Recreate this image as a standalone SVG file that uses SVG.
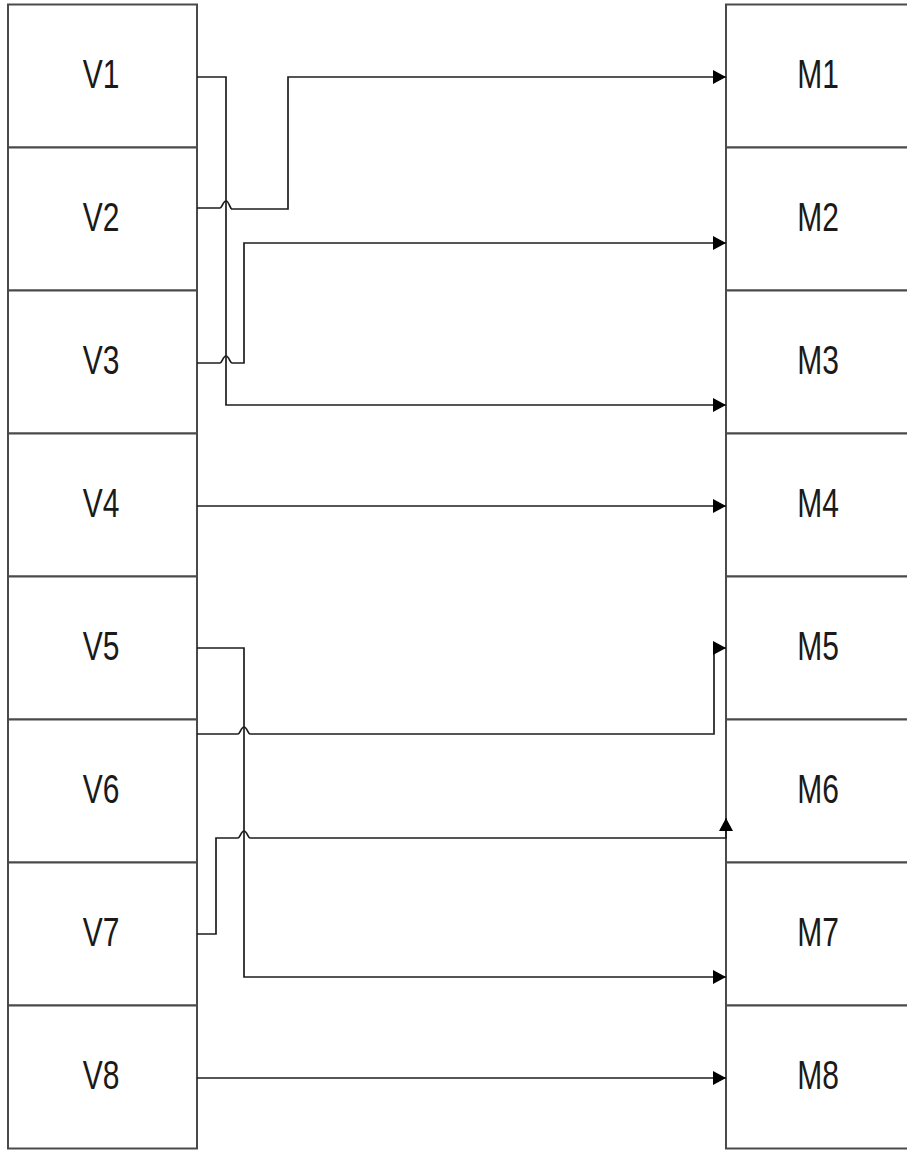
<svg xmlns="http://www.w3.org/2000/svg" width="907" height="1152" viewBox="0 0 907 1152">
<style>
.box{fill:#fff;stroke:#4a4a4a;stroke-width:2}
.lbl{font-family:"Liberation Sans",Arial,sans-serif;font-size:30px;fill:#1a1a1a;text-anchor:middle}
.con{fill:none;stroke:#1e1e1e;stroke-width:1.7;marker-end:url(#arr)}
</style>
<defs>
<marker id="arr" markerUnits="userSpaceOnUse" markerWidth="14" markerHeight="14" refX="13" refY="7" orient="auto" viewBox="0 0 14 14">
<path d="M0,0 L13,7 L0,14 z" fill="#000"/>
</marker>
</defs>
<rect width="907" height="1152" fill="#fff"/>
<g id="V1"><rect class="box" x="8" y="4.5" width="189" height="143"/><text class="lbl" transform="translate(101,88) scale(1,1.34)">V1</text></g>
<g id="V2"><rect class="box" x="8" y="147.5" width="189" height="143"/><text class="lbl" transform="translate(101,231) scale(1,1.34)">V2</text></g>
<g id="V3"><rect class="box" x="8" y="290.5" width="189" height="143"/><text class="lbl" transform="translate(101,374) scale(1,1.34)">V3</text></g>
<g id="V4"><rect class="box" x="8" y="433.5" width="189" height="143"/><text class="lbl" transform="translate(101,517) scale(1,1.34)">V4</text></g>
<g id="V5"><rect class="box" x="8" y="576.5" width="189" height="143"/><text class="lbl" transform="translate(101,660) scale(1,1.34)">V5</text></g>
<g id="V6"><rect class="box" x="8" y="719.5" width="189" height="143"/><text class="lbl" transform="translate(101,803) scale(1,1.34)">V6</text></g>
<g id="V7"><rect class="box" x="8" y="862.5" width="189" height="143"/><text class="lbl" transform="translate(101,946) scale(1,1.34)">V7</text></g>
<g id="V8"><rect class="box" x="8" y="1005.5" width="189" height="143"/><text class="lbl" transform="translate(101,1089) scale(1,1.34)">V8</text></g>
<g id="M1"><rect class="box" x="726" y="4.5" width="200" height="143"/><text class="lbl" transform="translate(818,88) scale(1,1.34)">M1</text></g>
<g id="M2"><rect class="box" x="726" y="147.5" width="200" height="143"/><text class="lbl" transform="translate(818,231) scale(1,1.34)">M2</text></g>
<g id="M3"><rect class="box" x="726" y="290.5" width="200" height="143"/><text class="lbl" transform="translate(818,374) scale(1,1.34)">M3</text></g>
<g id="M4"><rect class="box" x="726" y="433.5" width="200" height="143"/><text class="lbl" transform="translate(818,517) scale(1,1.34)">M4</text></g>
<g id="M5"><rect class="box" x="726" y="576.5" width="200" height="143"/><text class="lbl" transform="translate(818,660) scale(1,1.34)">M5</text></g>
<g id="M6"><rect class="box" x="726" y="719.5" width="200" height="143"/><text class="lbl" transform="translate(818,803) scale(1,1.34)">M6</text></g>
<g id="M7"><rect class="box" x="726" y="862.5" width="200" height="143"/><text class="lbl" transform="translate(818,946) scale(1,1.34)">M7</text></g>
<g id="M8"><rect class="box" x="726" y="1005.5" width="200" height="143"/><text class="lbl" transform="translate(818,1089) scale(1,1.34)">M8</text></g>
<g id="connectors">
<path class="con" d="M197,77 L226,77 L226,405 L726,405"/>
<path class="con" d="M197,208 L220,208 C222,208 223,201 226,201 C229,201 230,209 232,209 L288,209 L288,77 L726,77"/>
<path class="con" d="M197,363 L220,363 C222,363 223,356 226,356 C229,356 230,363 232,363 L244,363 L244,243 L726,243"/>
<path class="con" d="M197,506 L726,506"/>
<path class="con" d="M197,648 L244,648 L244,977 L726,977"/>
<path class="con" d="M197,734 L238,734 C240,734 241,727 244,727 C247,727 248,734 250,734 L714,734 L714,648 L726,648"/>
<path class="con" d="M197,934 L216,934 L216,838 L238,838 C240,838 241,831 244,831 C247,831 248,838 250,838 L726,838 L726,818"/>
<path class="con" d="M197,1078 L726,1078"/>
</g>
</svg>
